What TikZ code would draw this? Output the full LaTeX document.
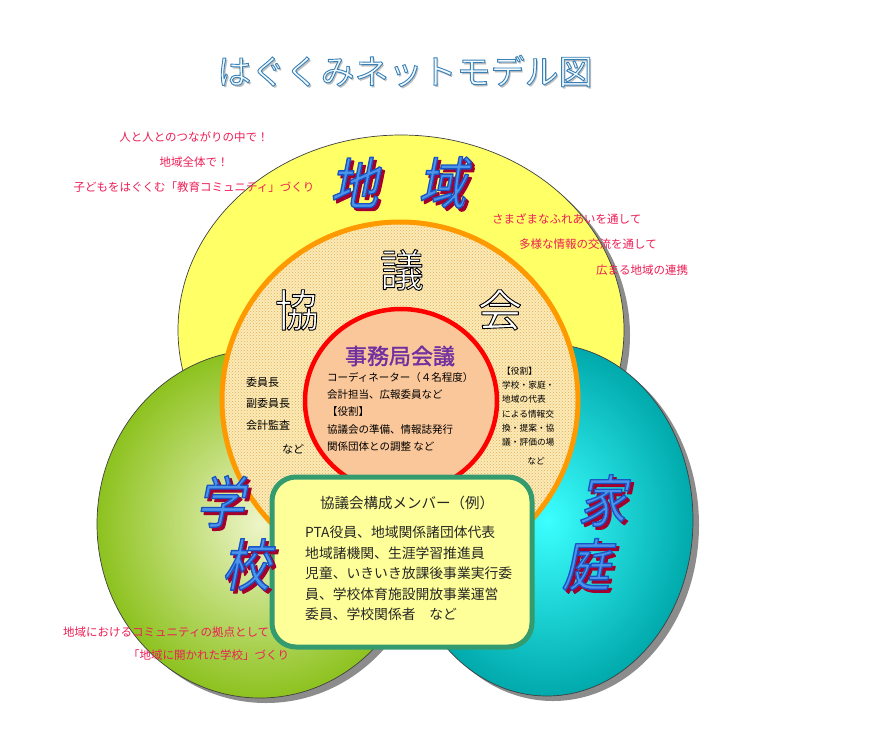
\documentclass[tikz,border=0pt]{standalone}
\usepackage{fontspec}
\setmainfont{Noto Sans CJK JP}
\newfontfamily\jpsl[FakeSlant=0.2,FakeStretch=0.86]{Noto Sans CJK JP}
\newfontfamily\jpbf[FakeBold=1.6]{Noto Sans CJK JP}
\usetikzlibrary{patterns}
\definecolor{yellowc}{HTML}{FFFF66}
\definecolor{shadowgray}{HTML}{8C8C8C}
\definecolor{greenin}{HTML}{EEF5C8}
\definecolor{greenout}{HTML}{8DC21F}
\definecolor{cyanin}{HTML}{3CFFFF}
\definecolor{cyanout}{HTML}{00A9AC}
\definecolor{dotbg}{HTML}{FBEBB8}
\definecolor{dotc}{HTML}{E6AC55}
\definecolor{orangec}{HTML}{FF9900}
\definecolor{redc}{HTML}{FF0000}
\definecolor{peach}{HTML}{FAC79A}
\definecolor{boxgreen}{HTML}{339B6E}
\definecolor{boxfill}{HTML}{FFFF99}
\definecolor{msgred}{HTML}{EE1E55}
\definecolor{kblue}{HTML}{4B94EA}
\definecolor{kshadow}{HTML}{A3002E}
\definecolor{purplec}{HTML}{7030A0}
\definecolor{titlefill}{HTML}{F2FAFD}
% stroked text: #1 stroke rgb (0..1 triple), #2 fill colour, #3 stroke width, #4 text
\newcommand\stk[4]{{\color{#2}\special{pdf:literal direct #1 RG #3 w 1 j 2 Tr}#4\special{pdf:literal direct 0 Tr}}}
\newcommand\bigchar[1]{\leavevmode\rlap{\hspace{3pt}\raisebox{-3pt}{\stk{0.64 0 0.18}{kshadow}{1.2}{#1}}}\stk{0.1 0.33 0.78}{kblue}{1.3}{#1}}
\newcommand\whitechar[1]{\stk{0 0 0}{white}{0.9}{#1}}
\tikzset{
  ringline/.style={draw=black!75, line width=0.7pt},
  shadowfill/.style={fill=shadowgray},
  msg/.style={text=msgred, font=\fontsize{11.5}{13}\selectfont, inner sep=0pt},
  bigk/.style={font=\jpsl\fontsize{56}{60}\selectfont, inner sep=0pt},
  kyogi/.style={font=\fontsize{44}{48}\selectfont, inner sep=0pt},
  smalltxt/.style={font=\fontsize{10.5}{17.3}\selectfont, align=left, anchor=north west, inner sep=0pt},
  listtxt/.style={font=\fontsize{11}{21.5}\selectfont, align=left, anchor=north west, inner sep=0pt},
  roletxt/.style={font=\fontsize{8.7}{14.2}\selectfont, align=left, anchor=north west, inner sep=0pt},
  boxtxt/.style={font=\fontsize{13.8}{20.5}\selectfont, text=black!85, align=left, anchor=north west, inner sep=0pt}
}
\begin{document}
\begin{tikzpicture}[x=1pt,y=-1pt]
\useasboundingbox (0,0) rectangle (875,742);
\fill[white] (0,0) rectangle (875,742);
% title
\node[font=\fontsize{34}{38}\selectfont, inner sep=0pt] (title) at (405,72)
  {\rlap{\hspace{2pt}\raisebox{-2pt}{\color{black!25}はぐくみネットモデル図}}\stk{0.22 0.5 0.72}{titlefill}{0.9}{はぐくみネットモデル図}};
% yellow circle
\fill[shadowfill] (407,335) ellipse [x radius=223, y radius=195];
\draw[ringline, fill=yellowc] (401,330) ellipse [x radius=223, y radius=195];
% green circle
\fill[shadowfill] (266,529) ellipse [x radius=163, y radius=174];
\draw[ringline, inner color=greenin, outer color=greenout] (260,524) ellipse [x radius=163, y radius=174];
% cyan circle
\fill[shadowfill] (553,525) ellipse [x radius=146, y radius=176];
\draw[ringline, inner color=cyanin, outer color=cyanout] (547,520) ellipse [x radius=146, y radius=176];
% dotted council circle
\fill[dotbg] (400,400) circle [radius=178];
\fill[pattern=crosshatch dots, pattern color=dotc] (400,400) circle [radius=178];
\draw[draw=orangec, line width=5pt] (400,400) circle [radius=178];
% secretariat circle
\draw[draw=redc, line width=4.5pt, fill=peach] (401,401) ellipse [x radius=96, y radius=92];
% member box
\draw[draw=boxgreen, line width=5pt, fill=boxfill, rounded corners=24pt] (272,477) rectangle (532,647);
% big labels
\node[bigk] (chi) at (354,184) {\bigchar{地}};
\node[bigk] (iki) at (442,184) {\bigchar{域}};
\node[bigk] (gaku) at (220,503) {\bigchar{学}};
\node[bigk] (kou) at (246,566) {\bigchar{校}};
\node[bigk] (ka) at (602,502) {\bigchar{家}};
\node[bigk] (tei) at (586,566) {\bigchar{庭}};
\node[kyogi] (kyo) at (297,310) {\whitechar{協}};
\node[kyogi] (gi) at (402,270) {\whitechar{議}};
\node[kyogi] (kai) at (500,310) {\whitechar{会}};
% secretariat
\node[font=\jpbf\fontsize{22}{24}\selectfont, text=purplec, inner sep=0pt] (jimu) at (400,356) {事務局会議};
\node[smalltxt] (jimutxt) at (327,372) {コーディネーター（４名程度）\\会計担当、広報委員など\\【役割】\\協議会の準備、情報誌発行\\関係団体との調整 など};
% left list
\node[listtxt] (yaku) at (246,377) {委員長\\副委員長\\会計監査};
\node[font=\fontsize{11}{13}\selectfont, inner sep=0pt] (yakunado) at (293,449) {など};
% right list
\node[roletxt] (role) at (502,367) {【役割】\\学校・家庭・\\地域の代表\\による情報交\\換・提案・協\\議・評価の場};
\node[font=\fontsize{8.7}{10}\selectfont, inner sep=0pt] (rolenado) at (536,461) {など};
% box text
\node[font=\fontsize{14.5}{16}\selectfont, text=black!85, inner sep=0pt] (boxtitle) at (407,503) {協議会構成メンバー（例）};
\node[boxtxt] (boxlist) at (305,526) {PTA役員、地域関係諸団体代表\\地域諸機関、生涯学習推進員\\児童、いきいき放課後事業実行委\\員、学校体育施設開放事業運営\\委員、学校関係者　など};
% red messages
\node[msg] (m1) at (194,137) {人と人とのつながりの中で！};
\node[msg] (m2) at (194,162) {地域全体で！};
\node[msg] (m3) at (194,187) {子どもをはぐくむ「教育コミュニティ」づくり};
\node[msg, anchor=west] (m4) at (492,219) {さまざまなふれあいを通して};
\node[msg, anchor=west] (m5) at (519,244) {多様な情報の交流を通して};
\node[msg, anchor=west] (m6) at (596,270) {広まる地域の連携};
\node[msg, anchor=west] (m7) at (63,632) {地域におけるコミュニティの拠点として};
\node[msg, anchor=west] (m8) at (128,655) {「地域に開かれた学校」づくり};
\end{tikzpicture}
\end{document}
